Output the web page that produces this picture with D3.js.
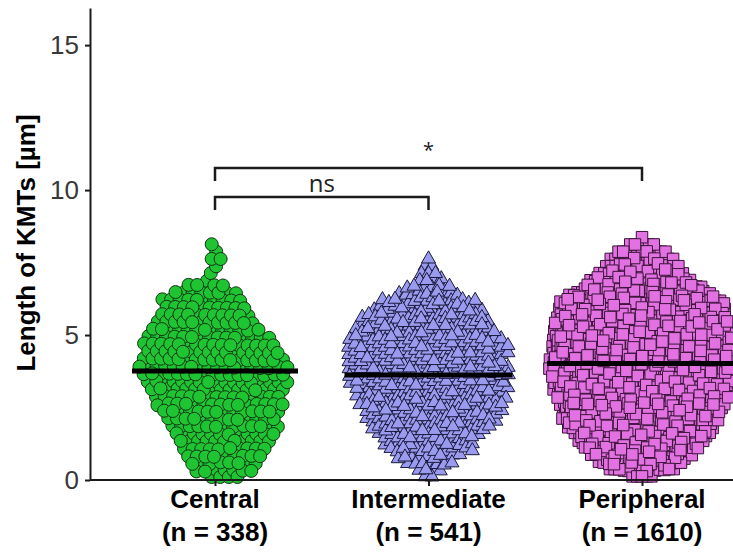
<!DOCTYPE html>
<html>
<head>
<meta charset="utf-8">
<script src="https://cdn.jsdelivr.net/npm/d3@7"></script>
<style>
  body { margin: 0; background: #fff; }
  svg { display: block; font-family: "Liberation Sans", Arial, sans-serif; }
</style>
</head>
<body>
<svg id="swarm"></svg>
<script>
const categories = ["Central", "Intermediate", "Peripheral"];
const sampleSizes = [338, 541, 1610];
const meanLength = [3.76, 3.62, 4.02];
const yTicks = [0, 5, 10, 15];

// KMT counts per 0.25 µm length bin (first bin = 0-0.25 µm)
const binWidth = 0.25;
const centralCounts = [4, 7, 8, 9, 10, 11, 12, 13, 13, 14, 15, 15, 16, 17, 17, 18, 17, 16, 16, 15,
  13, 12, 11, 10, 10, 8, 4, 1, 1, 1, 2, 1, 1];
const intermediateCounts = [2, 4, 7, 10, 14, 16, 18, 21, 23, 24, 25, 26, 27, 28, 29, 29, 28, 28, 28, 27,
  25, 23, 21, 19, 14, 9, 6, 4, 3, 2, 1];
const peripheralCounts = [5, 15, 25, 33, 40, 46, 50, 55, 58, 61, 65, 67, 68, 69, 70, 71, 71, 71, 71, 71,
  70, 69, 65, 63, 61, 50, 37, 32, 27, 21, 15, 11, 6, 1];

const comparisons = [
  { from: "Central", to: "Intermediate", level: 9.76, label: "ns" },
  { from: "Central", to: "Peripheral", level: 10.76, label: "*" }
];

const W = 733, H = 552;
const margin = { top: 8, left: 90, bottom: 72 };
const width = W - margin.left;
const height = H - margin.top - margin.bottom;

const styles = {
  Central: { shape: d3.symbolCircle, size: 133, fill: "#1ec431", stroke: "#143414", r: 4.3, pull: 0.025, half: 83 },
  Intermediate: { shape: d3.symbolTriangle, size: 85, fill: "#9a9bef", stroke: "#1a1a3c", r: 3.5, pull: 0.025, half: 84 },
  Peripheral: { shape: d3.symbolSquare, size: 132, fill: "#e271e2", stroke: "#3a1438", r: 2.35, pull: 0.012, half: 95 }
};

const svg = d3.select("#swarm").attr("width", W).attr("height", H);
const g = svg.append("g").attr("transform", `translate(${margin.left},${margin.top})`);

const y = d3.scaleLinear().domain([0, 16.28]).range([height, 0]);
const x = d3.scalePoint().domain(categories).range([125, 552]);

// one node per KMT from the binned counts, laid out as a swarm per category
const countsByCat = [centralCounts, intermediateCounts, peripheralCounts];
const nodes = [];
categories.forEach((cat, ci) => {
  const group = [];
  const st = styles[cat];
  countsByCat[ci].forEach((count, bi) => {
    const value = (bi + 0.5) * binWidth;
    for (let k = 0; k < count; k++) {
      group.push({ cat, value, x: x(cat) + (k - (count - 1) / 2) * st.r * 2, y: y(value) });
    }
  });
  const sim = d3.forceSimulation(group)
    .alphaDecay(0.015)
    .force("x", d3.forceX(x(cat)).strength(st.pull))
    .force("y", d3.forceY(d => y(d.value)).strength(1))
    .force("collide", d3.forceCollide(st.r).iterations(3))
    .stop();
  for (let i = 0; i < 400; i++) {
    sim.tick();
    group.forEach(d => { if (d.y > height - 3) d.y = height - 3; });
  }
  nodes.push(...group);
});

// mix draw order so markers overlap like the original
const n = nodes.length;
const order = d3.range(n).sort((a, b) => ((a * 7919) % n) - ((b * 7919) % n));

g.append("g").selectAll("path")
  .data(order.map(i => nodes[i]))
  .join("path")
  .attr("transform", d => `translate(${d.x},${d.y})`)
  .attr("d", d => d3.symbol().type(styles[d.cat].shape).size(styles[d.cat].size)())
  .attr("fill", d => styles[d.cat].fill)
  .attr("stroke", d => styles[d.cat].stroke)
  .attr("stroke-width", 1);

// mean lines
g.append("g").selectAll("line")
  .data(categories)
  .join("line")
  .attr("x1", d => x(d) - styles[d].half)
  .attr("x2", d => x(d) + styles[d].half)
  .attr("y1", (d, i) => y(meanLength[i]))
  .attr("y2", (d, i) => y(meanLength[i]))
  .attr("stroke", "#000")
  .attr("stroke-width", 5);

// y axis
const yAxis = g.append("g")
  .call(d3.axisLeft(y).tickValues(yTicks).tickSize(5).tickSizeOuter(0).tickPadding(6));
yAxis.select(".domain").attr("stroke", "#1a1a1a").attr("stroke-width", 2);
yAxis.selectAll(".tick line").attr("stroke", "#1a1a1a").attr("stroke-width", 2);
yAxis.selectAll(".tick text")
  .attr("font-size", 26)
  .attr("fill", "#383838")
  .attr("font-family", "Liberation Sans, Arial, sans-serif");

// x axis
const xAxis = g.append("g")
  .attr("transform", `translate(0,${height})`)
  .call(d3.axisBottom(x).tickSize(6).tickSizeOuter(0).tickFormat(""));
xAxis.select(".domain").remove();
xAxis.append("line")
  .attr("x1", 0).attr("x2", width)
  .attr("stroke", "#1a1a1a").attr("stroke-width", 2);
xAxis.selectAll(".tick line").attr("stroke", "#1a1a1a").attr("stroke-width", 2);

const catLabels = g.append("g").selectAll("text")
  .data(categories)
  .join("text")
  .attr("text-anchor", "middle")
  .attr("font-weight", "bold")
  .attr("font-size", 26)
  .attr("fill", "#000");
catLabels.append("tspan")
  .attr("x", d => x(d))
  .attr("y", height + 28)
  .text(d => d);
catLabels.append("tspan")
  .attr("x", d => x(d))
  .attr("y", height + 61)
  .text((d, i) => `(n = ${sampleSizes[i]})`);

svg.append("text")
  .attr("transform", "translate(26,243) rotate(-90)")
  .attr("text-anchor", "middle")
  .attr("dominant-baseline", "central")
  .attr("font-weight", "bold")
  .attr("font-size", 26)
  .text("Length of KMTs [µm]");

// significance brackets
const brackets = g.append("g").selectAll("g")
  .data(comparisons)
  .join("g");
brackets.append("path")
  .attr("d", d => {
    const top = y(d.level), foot = y(d.level - 0.45);
    return `M${x(d.from)},${foot}V${top}H${x(d.to)}V${foot}`;
  })
  .attr("fill", "none")
  .attr("stroke", "#1a1a1a")
  .attr("stroke-width", 2.5);
brackets.append("text")
  .attr("x", d => (x(d.from) + x(d.to)) / 2)
  .attr("y", d => y(d.level) - (d.label === "*" ? 11 : 5))
  .attr("text-anchor", "middle")
  .attr("font-family", "Open Sans, sans-serif")
  .attr("font-size", d => d.label === "*" ? 20 : 24)
  .attr("fill", "#222")
  .text(d => d.label);
</script>
</body>
</html>
